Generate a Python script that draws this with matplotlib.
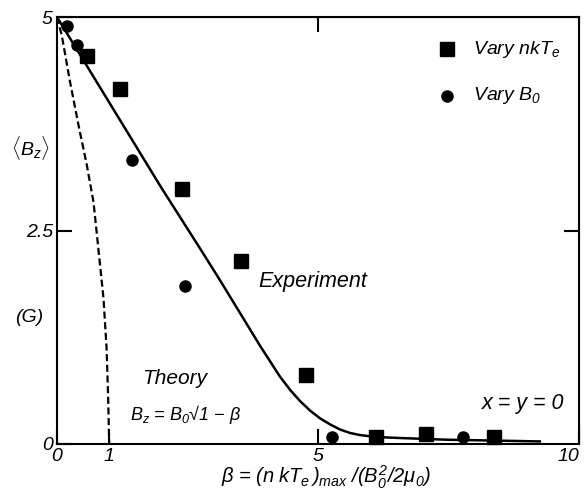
import numpy as np
import matplotlib
matplotlib.use("Agg")
import matplotlib.pyplot as plt

plt.rcParams['font.family'] = ['Liberation Sans', 'DejaVu Sans']
plt.rcParams['font.style'] = 'italic'
plt.rcParams['mathtext.fontset'] = 'custom'
plt.rcParams['mathtext.rm'] = 'Liberation Sans'
plt.rcParams['mathtext.it'] = 'Liberation Sans:italic'
plt.rcParams['mathtext.default'] = 'it'
plt.rcParams['xtick.direction'] = 'in'
plt.rcParams['ytick.direction'] = 'in'

# measured points
beta_nkT = [0.57, 1.21, 2.39, 3.52, 4.77, 6.11, 7.07, 8.37]
bz_nkT = [4.54, 4.16, 2.99, 2.14, 0.81, 0.08, 0.12, 0.08]

beta_B0 = [0.19, 0.38, 1.44, 2.45, 5.27, 7.78]
bz_B0 = [4.89, 4.67, 3.33, 1.85, 0.08, 0.08]

# experimental fit curve
beta_exp = [0.0, 1.0, 2.0, 2.74, 3.12, 3.51, 3.89, 4.08, 4.27, 4.47, 4.66,
            4.85, 5.04, 5.23, 5.42, 5.61, 5.80, 6.00, 6.19, 6.57, 7.47,
            8.40, 9.25]
bz_exp = [5.0, 4.0, 3.0, 2.29, 1.92, 1.53, 1.15, 0.97, 0.79, 0.63, 0.50,
          0.39, 0.30, 0.23, 0.17, 0.13, 0.105, 0.09, 0.08, 0.07, 0.05,
          0.04, 0.03]

# theory curve
beta_th = [0.0, 0.09, 0.25, 0.41, 0.57, 0.70, 0.79, 0.89, 0.95, 0.98, 1.0]
bz_th = [5.0, 4.79, 4.24, 3.74, 3.27, 2.83, 2.30, 1.71, 1.12, 0.54, 0.0]

fig = plt.figure(figsize=(5.87, 4.93), dpi=100)
ax = fig.add_axes([0.0971, 0.0994, 0.8893, 0.8661])

ax.plot(beta_exp, bz_exp, color='black', lw=1.8)
ax.plot(beta_th, bz_th, color='black', lw=1.6, dashes=(3.2, 1.6))
ax.plot(beta_nkT, bz_nkT, 's', color='black', ms=9.5, clip_on=False)
ax.plot(beta_B0, bz_B0, 'o', color='black', ms=8, clip_on=False)

ax.set_xlim(0, 10)
ax.set_ylim(0, 5)
for s in ax.spines.values():
    s.set_linewidth(1.5)

# single inward ticks on top (5) and right (2.5)
top = ax.secondary_xaxis('top')
top.set_xticks([5])
top.set_xticklabels([])
top.tick_params(direction='in', length=11, width=1.5)
right = ax.secondary_yaxis('right')
right.set_yticks([2.5])
right.set_yticklabels([])
right.tick_params(direction='in', length=11, width=1.5)

ax.set_xticks([0, 1, 5, 10])
ax.set_xticklabels(['0', '1', '5', '10'])
ax.set_yticks([0, 2.5, 5])
ax.set_yticklabels(['0', '2.5', '5'])
ax.tick_params(axis='both', direction='in', length=11, width=1.5,
               labelsize=14, pad=3, bottom=True, left=True,
               top=False, right=False)
ax.get_xticklabels()[-1].set_horizontalalignment('right')

ax.set_xlabel(r'$\mathrm{\beta}$ = ($n\;kT_e\,$)$_{max}$ /($B_0^2$/2$\mathrm{\mu}_0$)',
              fontsize=14.5)
ax.xaxis.set_label_coords(0.515, -0.047)

fig.text(0.052, 0.70, r'$\langle B_z\rangle$', fontsize=14,
         ha='center', va='center')
fig.text(0.049, 0.355, '(G)', fontsize=14, ha='center', va='center')

# legend
ax.plot([7.47], [4.62], 's', color='black', ms=9.5)
ax.text(7.96, 4.62, r'Vary $nkT_e$', fontsize=14, va='center')
ax.plot([7.47], [4.08], 'o', color='black', ms=8)
ax.text(7.96, 4.08, r'Vary $B_0$', fontsize=14, va='center')

ax.text(3.85, 1.90, 'Experiment', fontsize=15.5, va='center')
ax.text(1.63, 0.77, 'Theory', fontsize=15, va='center')
ax.text(1.40, 0.34, r'$B_z$ = $B_0$' + '\u221a1 \u2212 ' + r'$\mathrm{\beta}$',
        fontsize=13, va='center')
ax.text(8.13, 0.48, 'x = y = 0', fontsize=15.5, va='center')

fig.savefig('out.png', dpi=100)
